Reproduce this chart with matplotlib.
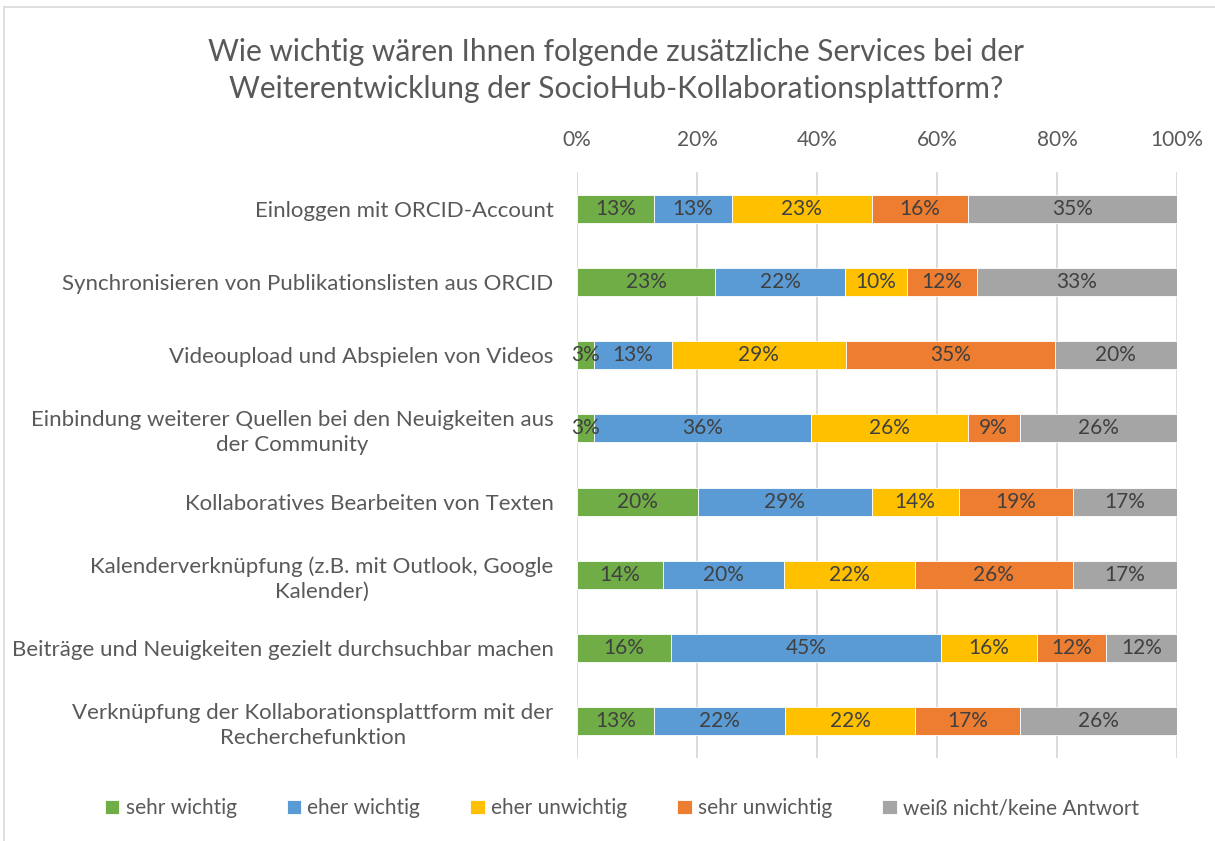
import numpy as np
import matplotlib.pyplot as plt
from matplotlib.patches import Rectangle

plt.rcParams['font.family'] = ['Lato', 'DejaVu Sans']

categories = [
    'Einloggen mit ORCID-Account',
    'Synchronisieren von Publikationslisten aus ORCID',
    'Videoupload und Abspielen von Videos',
    'Einbindung weiterer Quellen bei den Neuigkeiten aus\nder Community',
    'Kollaboratives Bearbeiten von Texten',
    'Kalenderverknüpfung (z.B. mit Outlook, Google\nKalender)',
    'Beiträge und Neuigkeiten gezielt durchsuchbar machen',
    'Verknüpfung der Kollaborationsplattform mit der\nRecherchefunktion',
]
series_names = ['sehr wichtig', 'eher wichtig', 'eher unwichtig', 'sehr unwichtig',
                'weiß nicht/keine Antwort']
sehr_wichtig = [12.9, 23.0, 2.9, 2.9, 20.1, 14.3, 15.7, 12.9]
eher_wichtig = [12.9, 21.7, 12.9, 36.1, 29.0, 20.2, 45.0, 21.7]
eher_unwichtig = [23.3, 10.3, 29.0, 26.1, 14.5, 21.8, 15.9, 21.8]
sehr_unwichtig = [16.1, 11.6, 34.8, 8.7, 19.0, 26.3, 11.6, 17.4]
keine_antwort = [34.8, 33.4, 20.4, 26.2, 17.4, 17.4, 11.8, 26.2]
colors = ['#70ad47', '#5b9bd5', '#ffc000', '#ed7d31', '#a5a5a5']

data = [sehr_wichtig, eher_wichtig, eher_unwichtig, sehr_unwichtig, keine_antwort]

fig = plt.figure(figsize=(12.15, 8.41), dpi=100)
ax = fig.add_axes([0.4749, 0.0987, 0.4938, 0.6968])

y = np.arange(len(categories))
left = np.zeros(len(categories))
for vals, name, col in zip(data, series_names, colors):
    vals = np.array(vals)
    ax.barh(y, vals, left=left, height=0.385, color=col, label=name, zorder=3,
            edgecolor='white', linewidth=0.6)
    for yi, l, v in zip(y, left, vals):
        ax.text(l + v / 2, yi, '%d%%' % round(v), ha='center', va='center',
                fontsize=15, color='#404040', zorder=4)
    left += vals

ax.set_xlim(0, 100)
ax.set_ylim(len(categories) - 0.5, -0.5)
ax.set_xticks(np.arange(0, 101, 20))
ax.set_xticklabels(['%d%%' % t for t in range(0, 101, 20)])
ax.xaxis.tick_top()
ax.tick_params(axis='x', length=0, pad=16, labelsize=15, labelcolor='#595959')
ax.set_yticks(y)
ax.set_yticklabels(categories, multialignment='center', linespacing=1.3)
ax.tick_params(axis='y', length=0, pad=17, labelsize=16, labelcolor='#595959')
ax.grid(axis='x', color='#d9d9d9', linewidth=1.3, zorder=0)
for s in ax.spines.values():
    s.set_visible(False)

fig.suptitle('Wie wichtig wären Ihnen folgende zusätzliche Services bei der\n'
             'Weiterentwicklung der SocioHub-Kollaborationsplattform?',
             x=0.507, y=0.955, fontsize=21.5, color='#595959', linespacing=1.4)

fig.legend(loc='center', bbox_to_anchor=(0.512, 0.039), ncol=5, frameon=False,
           fontsize=15, labelcolor='#595959', handlelength=0.7, handleheight=0.7,
           handletextpad=0.3, columnspacing=2.4)

fig.patches.append(Rectangle((0.0035, -0.01), 1.0, 1.0017, transform=fig.transFigure,
                             fill=False, edgecolor='#d9d9d9', linewidth=1.2))

fig.savefig('out.png', dpi=100)
